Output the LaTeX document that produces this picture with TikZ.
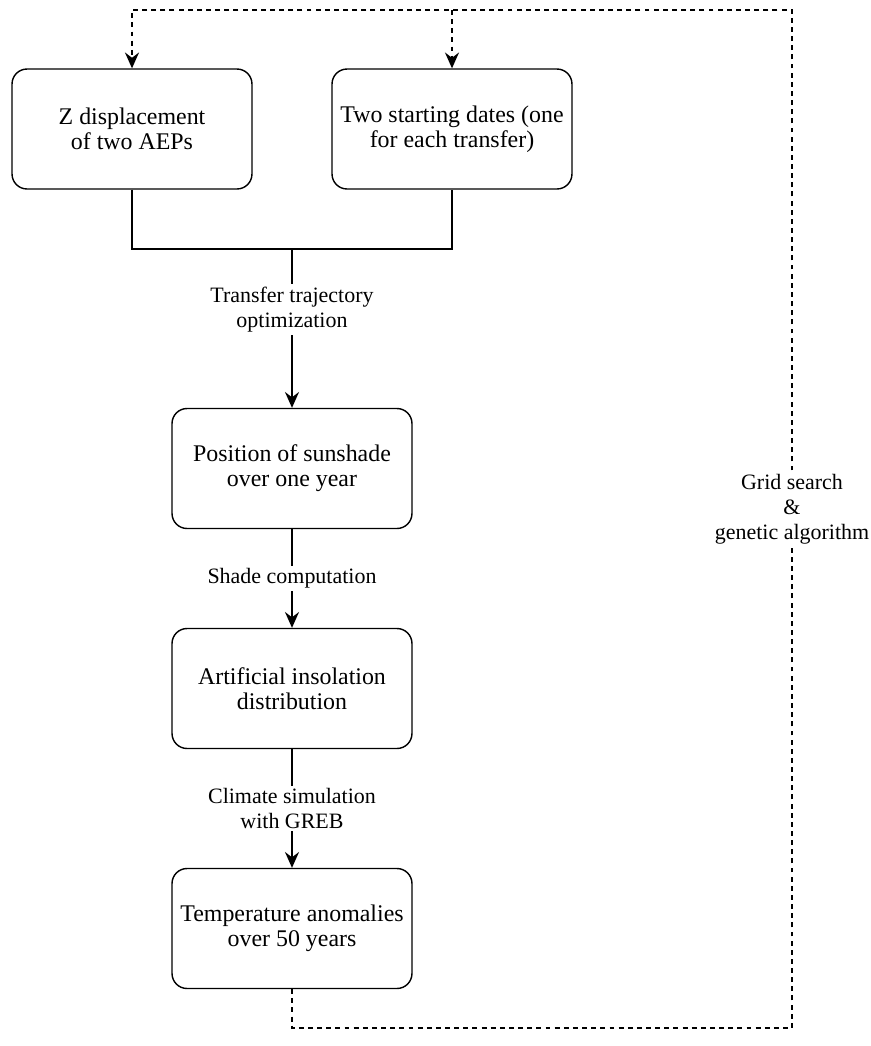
\documentclass[tikz,border=0pt]{standalone}
\usepackage{fontspec}
\setmainfont{Liberation Serif}
\usetikzlibrary{arrows.meta,positioning}
\tikzset{>={Stealth[length=9pt,width=8pt,inset=3pt]}}
\tikzset{%
    stepbox/.style={draw,line width=0.8pt,rounded corners=0.3cm,%
        minimum width=4.8cm,minimum height=2.4cm,align=center,%
        font=\fontsize{13.6}{14.2}\selectfont},%
    edgelabel/.style={fill=white,align=center,inner sep=1.5pt,%
        font=\fontsize{12.5}{14.2}\selectfont},%
    flow/.style={line width=0.8pt},%
    loopline/.style={line width=0.8pt,dash pattern=on 2.8pt off 2.4pt}%
}

\begin{document}
\begin{tikzpicture}[x=0.02cm,y=-0.02cm]
      \useasboundingbox (0,0) rectangle (870,1046);
      % boxes
      \node[stepbox] (zbox)    at (132,129)   {Z displacement\\of two AEPs};
      \node[stepbox] (datebox) at (452,129)   {Two starting dates (one\\for each transfer)};
      \node[stepbox] (posbox)  at (292,468.5) {Position of sunshade\\over one year};
      \node[stepbox] (insbox)  at (292,688.5) {Artificial insolation\\distribution};
      \node[stepbox] (tempbox) at (292,928.5) {Temperature anomalies\\over 50 years};
      \coordinate (join)   at (292,249);
      \coordinate (loopbl) at (292,1028);
      \coordinate (loopbr) at (792,1028);
      \coordinate (looptr) at (792,10);
      % main chain
      \draw[flow] (zbox.south) |- (join) -| (datebox.south);
      \draw[flow,->] (join) -- node[edgelabel,pos=0.38] {Transfer trajectory\\optimization} (posbox.north);
      \draw[flow,->] (posbox) -- node[edgelabel] {Shade computation} (insbox);
      \draw[flow,->] (insbox) -- node[edgelabel] {Climate simulation\\with GREB} (tempbox);
      % feedback
      \draw[loopline,->] (tempbox.south) -- (loopbl) -- (loopbr)
          -- node[edgelabel,pos=0.51] {Grid search\\\&\\genetic algorithm} (looptr) -| (zbox.north);
      \draw[loopline,->] (datebox.north |- looptr) -- (datebox.north);
    \end{tikzpicture}
\end{document}
